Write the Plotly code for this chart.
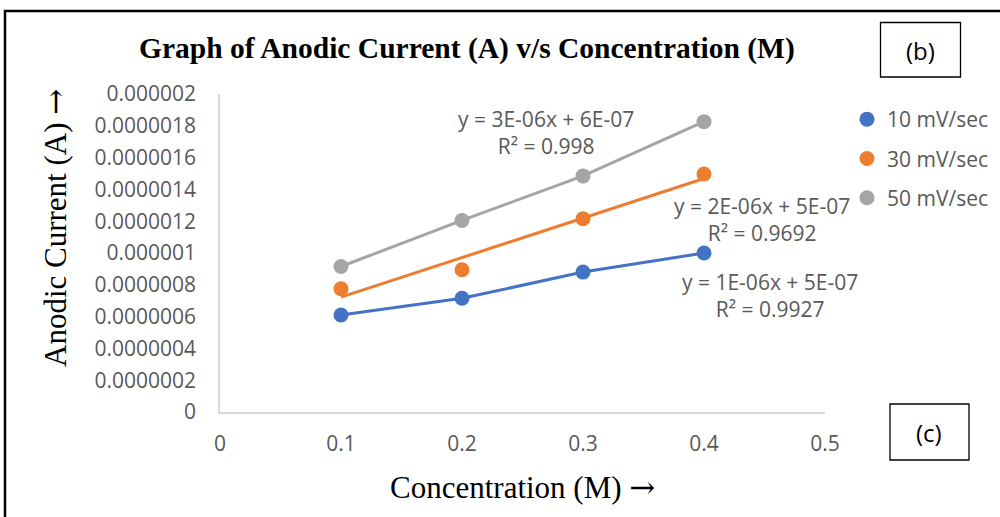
import numpy as np
import plotly.graph_objects as go

# ---------------- data ----------------
conc = [0.1, 0.2, 0.3, 0.4]
i_10 = [6.1e-7, 7.15e-7, 8.8e-7, 1.0e-6]
i_30 = [7.75e-7, 8.95e-7, 1.215e-6, 1.497e-6]
i_50 = [9.15e-7, 1.205e-6, 1.485e-6, 1.826e-6]
series_names = ["10 mV/sec", "30 mV/sec", "50 mV/sec"]
colors = ["#4472C4", "#ED7D31", "#A5A5A5"]

y_tickvals = [0, 2e-7, 4e-7, 6e-7, 8e-7, 1e-6, 1.2e-6, 1.4e-6, 1.6e-6, 1.8e-6, 2e-6]
y_ticktext = ["0", "0.0000002", "0.0000004", "0.0000006", "0.0000008", "0.000001",
              "0.0000012", "0.0000014", "0.0000016", "0.0000018", "0.000002"]
x_tickvals = [0, 0.1, 0.2, 0.3, 0.4, 0.5]
x_ticktext = ["0", "0.1", "0.2", "0.3", "0.4", "0.5"]

eq_50 = "y = 3E-06x + 6E-07<br>R² = 0.998"
eq_30 = "y = 2E-06x + 5E-07<br>R² = 0.9692"
eq_10 = "y = 1E-06x + 5E-07<br>R² = 0.9927"

title_text = "Graph of Anodic Current (A) v/s Concentration (M)"
x_title = "Concentration (M)"
y_title = "Anodic Current (A)"
arrow = "<span style='font-family:DejaVu Serif'>→</span>"

# ---------------- layout geometry ----------------
W, H = 1000, 517
L, R, T, B = 220, 175, 94, 105
PW, PH = W - L - R, H - T - B


def px(xp):
    return (xp - L) / PW


def py(yp):
    return (H - B - yp) / PH


TXT = "#595959"
SANS = "Open Sans"
SERIF = "Liberation Serif"

fig = go.Figure()

# 10 mV/sec: connected line
fig.add_trace(go.Scatter(x=conc, y=i_10, mode="lines", line=dict(color=colors[0], width=3),
                         showlegend=False, hoverinfo="skip"))
# 50 mV/sec: connected line
fig.add_trace(go.Scatter(x=conc, y=i_50, mode="lines", line=dict(color=colors[2], width=3),
                         showlegend=False, hoverinfo="skip"))
# 30 mV/sec: linear trendline
coef = np.polyfit(conc, i_30, 1)
fit_x = [conc[0], conc[-1]]
fit_y = [coef[0] * v + coef[1] for v in fit_x]
fig.add_trace(go.Scatter(x=fit_x, y=fit_y, mode="lines", line=dict(color=colors[1], width=3),
                         showlegend=False, hoverinfo="skip"))

for name, ys, c in zip(series_names, [i_10, i_30, i_50], colors):
    fig.add_trace(go.Scatter(x=conc, y=ys, mode="markers", name=name, legendgroup=name,
                             marker=dict(color=c, size=15, line=dict(width=0))))

annotations = [
    dict(text="<b>" + title_text + "</b>", x=px(466.5), y=py(48), xref="paper", yref="paper",
         showarrow=False, xanchor="center", yanchor="middle",
         font=dict(family=SERIF, size=29.5, color="black")),
    dict(text=x_title + " " + arrow, x=px(522), y=py(487), xref="paper", yref="paper",
         showarrow=False, xanchor="center", yanchor="middle",
         font=dict(family=SERIF, size=31, color="black")),
    dict(text=y_title + " " + arrow, x=px(55), y=py(228), xref="paper", yref="paper", textangle=-90,
         showarrow=False, xanchor="center", yanchor="middle",
         font=dict(family=SERIF, size=31, color="black")),
    dict(text=eq_50, x=px(546), y=py(132), xref="paper", yref="paper",
         showarrow=False, xanchor="center", yanchor="middle", align="center",
         font=dict(family=SANS, size=21, color=TXT)),
    dict(text=eq_30, x=px(762), y=py(219), xref="paper", yref="paper",
         showarrow=False, xanchor="center", yanchor="middle", align="center",
         font=dict(family=SANS, size=21, color=TXT)),
    dict(text=eq_10, x=px(770), y=py(295), xref="paper", yref="paper",
         showarrow=False, xanchor="center", yanchor="middle", align="center",
         font=dict(family=SANS, size=21, color=TXT)),
    dict(text="(b)", x=px(920.5), y=py(50), xref="paper", yref="paper",
         showarrow=False, xanchor="center", yanchor="middle",
         font=dict(family=SANS, size=24, color="black")),
    dict(text="(c)", x=px(929.5), y=py(432), xref="paper", yref="paper",
         showarrow=False, xanchor="center", yanchor="middle",
         font=dict(family=SANS, size=24, color="black")),
]

shapes = [
    dict(type="rect", xref="paper", yref="paper", x0=px(5), x1=px(1012), y0=py(11), y1=py(530),
         line=dict(color="black", width=2.5)),
    dict(type="rect", xref="paper", yref="paper", x0=px(880.5), x1=px(960.5), y0=py(22.5), y1=py(77),
         line=dict(color="black", width=1.3)),
    dict(type="rect", xref="paper", yref="paper", x0=px(890), x1=px(969), y0=py(404), y1=py(460),
         line=dict(color="black", width=1.3)),
]

fig.update_layout(
    width=W, height=H,
    margin=dict(l=L, r=R, t=T, b=B, autoexpand=False),
    paper_bgcolor="white", plot_bgcolor="white",
    showlegend=True,
    legend=dict(x=px(847), y=py(99), xanchor="left", yanchor="top",
                font=dict(family=SANS, size=21, color=TXT),
                bgcolor="rgba(0,0,0,0)", tracegroupgap=9, itemwidth=30),
    annotations=annotations,
    shapes=shapes,
)
fig.update_xaxes(range=[0, 0.5], tickvals=x_tickvals, ticktext=x_ticktext,
                 showgrid=False, zeroline=False, showline=True, linecolor="#D9D9D9", linewidth=1.5,
                 ticks="", ticklabelstandoff=12,
                 tickfont=dict(family=SANS, size=21, color=TXT))
fig.update_yaxes(range=[0, 2e-6], tickvals=y_tickvals, ticktext=y_ticktext,
                 showgrid=False, zeroline=False, showline=True, linecolor="#D9D9D9", linewidth=1.5,
                 ticks="", ticklabelstandoff=18,
                 tickfont=dict(family=SANS, size=21, color=TXT))

fig.write_html("out.html")
